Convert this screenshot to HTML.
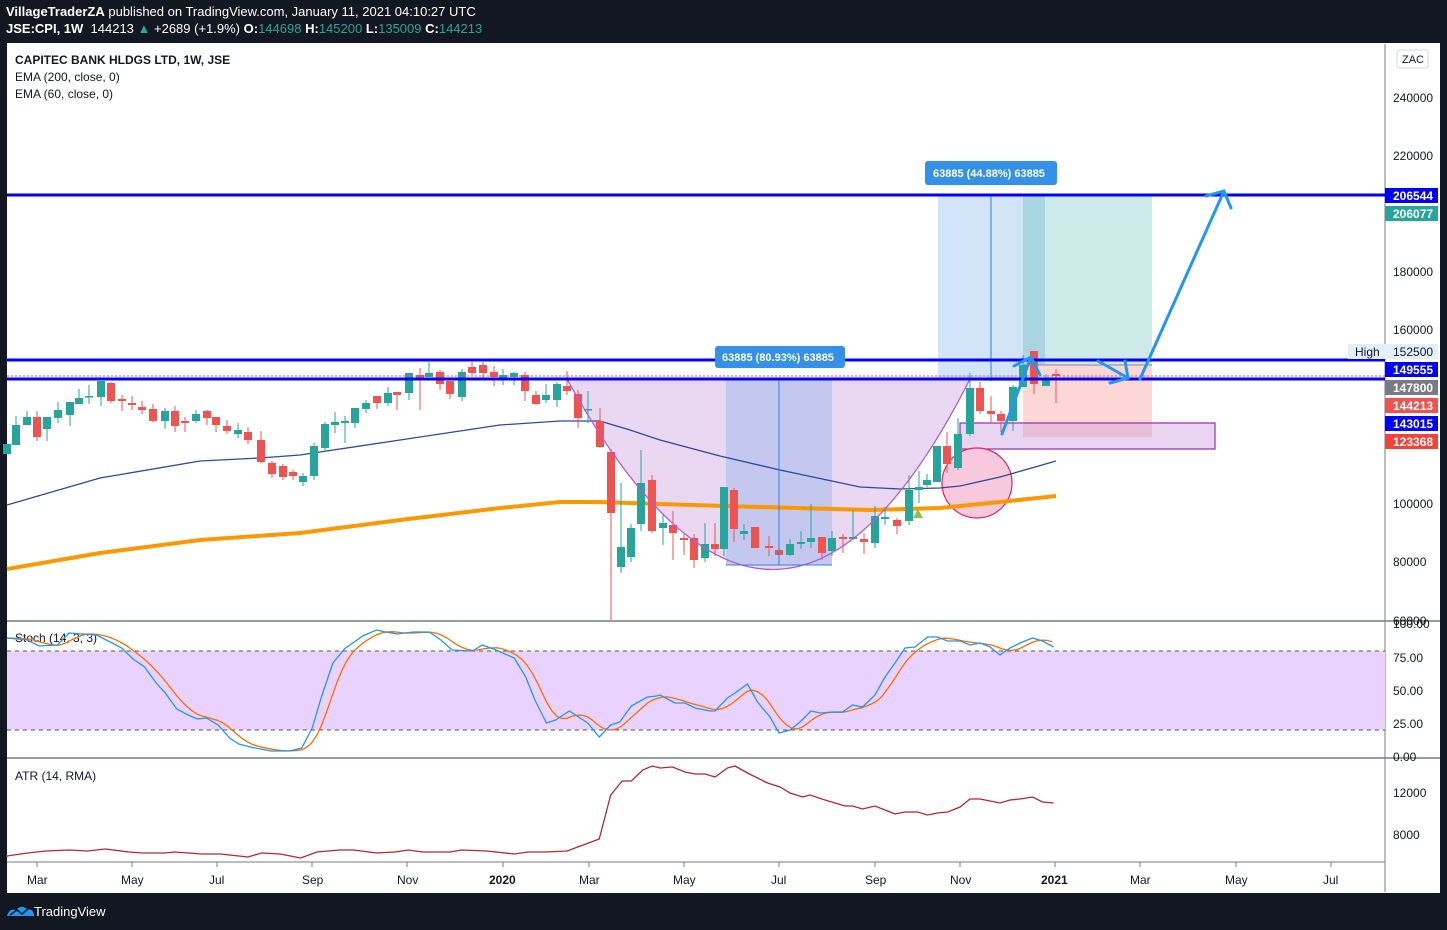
<!DOCTYPE html>
<html><head><meta charset="utf-8"><style>
html,body{margin:0;padding:0;background:#131722;width:1447px;height:930px;overflow:hidden;font-family:"Liberation Sans",sans-serif;}
.hd{position:absolute;left:6px;color:#fff;font-size:13px;white-space:nowrap;}
.hd b{font-weight:bold}
.tl{color:#26a69a}
#panel{position:absolute;left:7px;top:43px;width:1433px;height:850px;background:#fff;}
svg text{font-family:"Liberation Sans",sans-serif;}
</style></head><body>
<div class="hd" style="top:4px"><b>VillageTraderZA</b> published on TradingView.com, January 11, 2021 04:10:27 UTC</div>
<div class="hd" style="top:21px"><b>JSE:CPI, 1W</b>&nbsp; 144213 <span class="tl">▲</span> +2689 (+1.9%) <b>O:</b><span class="tl">144698</span> <b>H:</b><span class="tl">145200</span> <b>L:</b><span class="tl">135009</span> <b>C:</b><span class="tl">144213</span></div>
<div id="panel"></div>
<svg id="s" width="1447" height="930" style="position:absolute;left:0;top:0" xmlns="http://www.w3.org/2000/svg">
<g id="bg"></g>
<g font-size="12" fill="#131722">
<text x="15" y="64" font-weight="bold">CAPITEC BANK HLDGS LTD, 1W, JSE</text>
<text x="15" y="81">EMA (200, close, 0)</text>
<text x="15" y="98">EMA (60, close, 0)</text>
<text x="15" y="642">Stoch (14, 3, 3)</text>
<text x="15" y="780">ATR (14, RMA)</text>
</g>
<g id="fg"></g>
<g font-size="12" fill="#131722">
<rect x="1397" y="50" width="31" height="18" fill="#fff" stroke="#d1d4dc" rx="2"/>
<text x="1402" y="63" font-size="11">ZAC</text>
<text x="1393" y="102">240000</text>
<text x="1393" y="160">220000</text>
<text x="1393" y="276">180000</text>
<text x="1393" y="334">160000</text>
<text x="1393" y="508">100000</text>
<text x="1393" y="566">80000</text>
<text x="1393" y="625">60000</text>
<text x="1393" y="628">100.00</text>
<text x="1393" y="662">75.00</text>
<text x="1393" y="695">50.00</text>
<text x="1393" y="728">25.00</text>
<text x="1393" y="761">0.00</text>
<text x="1393" y="797">12000</text>
<text x="1393" y="839">8000</text>
</g>
<g font-size="12" font-weight="bold" fill="#fff">
<rect x="1385" y="188" width="53" height="15" fill="#0000ff"/><text x="1393" y="200">206544</text>
<rect x="1385" y="206" width="53" height="15" fill="#26a69a"/><text x="1393" y="218">206077</text>
<rect x="1348" y="344" width="90" height="15" fill="#e3effa"/><text x="1355" y="356" fill="#131722" font-weight="normal">High</text><text x="1393" y="356" fill="#131722" font-weight="normal">152500</text>
<rect x="1385" y="362" width="53" height="15" fill="#0000ff"/><text x="1393" y="374">149555</text>
<rect x="1385" y="380" width="53" height="15" fill="#787b86"/><text x="1393" y="392">147800</text>
<rect x="1385" y="398" width="53" height="15" fill="#ef5350"/><text x="1393" y="410">144213</text>
<rect x="1385" y="416" width="53" height="15" fill="#0000ff"/><text x="1393" y="428">143015</text>
<rect x="1385" y="434" width="53" height="15" fill="#f44336"/><text x="1393" y="446">123368</text>
<rect x="715" y="346" width="130" height="22" rx="3" fill="#3590e8"/><text x="722" y="361" font-size="11">63885 (80.93%) 63885</text>
<rect x="925" y="161" width="132" height="24" rx="3" fill="#3590e8"/><text x="933" y="177" font-size="11">63885 (44.88%) 63885</text>
</g>
<g font-size="12" fill="#131722">
<text x="27" y="884">Mar</text><text x="121" y="884">May</text><text x="209" y="884">Jul</text><text x="302" y="884">Sep</text><text x="397" y="884">Nov</text>
<text x="489" y="884" font-weight="bold">2020</text><text x="579" y="884">Mar</text><text x="673" y="884">May</text><text x="771" y="884">Jul</text><text x="865" y="884">Sep</text><text x="950" y="884">Nov</text>
<text x="1041" y="884" font-weight="bold">2021</text><text x="1130" y="884">Mar</text><text x="1225" y="884">May</text><text x="1323" y="884">Jul</text>
</g>
<g transform="translate(7,904)"><path d="M0 12 Q2 4 9 6 Q14 0 20 5 Q27 5 27 12 Z" fill="#2196f3"/><path d="M3 11 L10 6 L15 10 L22 4" stroke="#131722" stroke-width="1.5" fill="none"/></g>
<text x="34" y="916" font-size="13" fill="#fff">TradingView</text>
</svg>
<script>
var NS="http://www.w3.org/2000/svg";
function el(p,t,a){var e=document.createElementNS(NS,t);for(var k in a)e.setAttribute(k,a[k]);document.getElementById(p).appendChild(e);return e;}
function pl(pts){return pts.map(function(p){return p[0].toFixed(1)+","+p[1].toFixed(1)}).join(" ");}
// backgrounds & grid
el("bg","line",{x1:7,y1:621,x2:1440,y2:621,stroke:"#787b86","stroke-width":1.5});
el("bg","line",{x1:7,y1:758,x2:1440,y2:758,stroke:"#787b86","stroke-width":1.5});
el("bg","line",{x1:7,y1:862,x2:1385,y2:862,stroke:"#787b86"});
el("bg","line",{x1:1385,y1:44,x2:1385,y2:892,stroke:"#787b86"});
el("bg","rect",{x:7,y:651,width:1378,height:79,fill:"#e9d2fd"});
el("bg","line",{x1:7,y1:651,x2:1385,y2:651,stroke:"#555","stroke-dasharray":"4,4"});
el("bg","line",{x1:7,y1:730,x2:1385,y2:730,stroke:"#555","stroke-dasharray":"4,4"});
[37,132,217,312,407,503,589,684,779,875,960,1055,1140,1236,1331].forEach(function(x){el("bg","line",{x1:x,y1:862,x2:x,y2:867,stroke:"#787b86"});});
// zones
el("bg","path",{d:"M567 379 Q 777 760 970 379 Z",fill:"#ead8f2"});
el("bg","rect",{x:726,y:379,width:106,height:186,fill:"#c4c8ee"});
el("bg","rect",{x:938,y:195,width:85,height:186,fill:"#d2e5f8"});
el("bg","rect",{x:1023,y:195,width:129,height:170,fill:"#cde9e8"});
el("bg","rect",{x:1023,y:195,width:22,height:170,fill:"#a8d5df"});
el("bg","rect",{x:1023,y:365,width:129,height:72,fill:"#fcd7d6"});
el("bg","rect",{x:960,y:423,width:255,height:26,fill:"rgba(200,150,220,0.4)",stroke:"#9c27b0","stroke-width":1.2});
el("bg","circle",{cx:977,cy:483,r:35,fill:"#f8c9dc",stroke:"#e91e63","stroke-width":1.2});
// EMA lines
el("bg","polyline",{points:pl([[7,569],[100,553],[200,540],[300,533],[400,520],[500,508],[560,502],[600,502],[660,504],[760,507],[870,510],[940,508],[1000,502],[1056,496]]),fill:"none",stroke:"#ff9800","stroke-width":4});
el("bg","polyline",{points:pl([[7,505],[100,478],[200,461],[260,458],[300,455],[400,440],[500,425],[560,421],[600,421],[630,430],[660,440],[720,456],[780,470],[860,487],[900,489],[940,488],[960,486],[1000,477],[1056,461]]),fill:"none",stroke:"#2a4a9c","stroke-width":1.3});
// candles
var c=[[7,444,454,444,454,1],[16,425,445,416,445,1],[27,417,425,411,425,1],[37,417,437,411,441,0],[47,417,429,417,441,1],[58,410,418,402,423,1],[70,402,415,402,426,1],[79,398,404,389,404,1],[89,396,397,385,404,1],[101,381,397,381,406,1],[111,383,401,382,403,0],[122,399,401,395,411,0],[132,403,405,396,410,0],[142,407,410,401,414,0],[153,409,421,404,422,0],[165,411,421,408,429,1],[175,411,426,406,432,0],[185,421,423,417,432,0],[196,414,421,410,423,1],[207,411,418,410,425,0],[216,417,425,417,432,0],[227,426,431,420,434,0],[238,430,434,423,438,1],[248,432,440,427,444,0],[261,440,462,431,463,0],[272,463,474,461,478,0],[283,466,477,464,480,0],[293,472,476,470,480,0],[303,476,482,473,486,1],[314,446,476,443,480,1],[325,424,448,422,452,1],[335,422,425,412,433,1],[345,421,423,416,443,1],[355,408,423,408,428,1],[366,403,409,400,413,1],[377,396,403,396,409,0],[388,393,403,387,406,1],[397,392,395,392,410,0],[409,373,393,373,400,1],[420,375,379,368,410,0],[429,373,377,362,377,1],[440,372,384,370,390,0],[450,381,394,381,399,0],[462,372,397,369,401,1],[472,367,373,362,375,0],[483,365,373,362,378,0],[494,372,377,366,386,0],[503,375,378,369,385,1],[514,373,377,372,385,1],[525,375,391,372,401,0],[536,395,404,391,405,0],[546,395,400,384,403,1],[557,384,400,382,407,1],
[567,386,391,371,395,0],[578,394,418,390,428,0],[588,409,410,391,423,1],[600,421,447,408,448,0],[611,452,513,449,620,0],[621,547,567,483,573,1],[631,528,557,524,562,1],[641,483,524,450,531,1],[652,480,531,475,533,0],[663,523,528,513,545,1],[673,525,533,511,560,0],[684,538,540,533,555,0],[694,538,560,534,568,0],[705,544,558,523,562,1],[715,544,549,523,556,0],[724,487,549,487,556,1],[734,490,529,488,542,0],[744,531,534,524,540,1],[755,527,548,527,548,0],[769,546,548,536,556,0],[779,550,555,550,555,0],[790,544,555,539,556,1],[801,542,544,531,549,1],[811,538,542,504,548,1],[822,537,553,537,560,0],[832,538,551,531,556,1],[843,537,539,534,553,0],[853,537,539,510,540,1],[864,539,542,533,554,0],[875,516,543,506,548,1],[885,517,519,507,525,1],[897,520,526,518,534,0],[909,490,521,475,525,1],[919,487,490,471,503,1],[927,480,485,474,487,1],[937,446,482,446,482,1],[947,446,464,432,473,0],[958,434,468,418,470,1],[970,388,434,373,436,1],[980,388,411,382,414,0],[991,411,414,396,423,0],[1001,414,421,411,432,0],[1013,387,421,385,431,1],[1023,365,387,355,387,1],[1034,351,384,351,394,0],[1046,379,386,374,386,1],[1056,374,376,369,403,0]];
c.forEach(function(k){var col=k[5]?"#26a69a":"#ef5350";el("fg","line",{x1:k[0],y1:k[3],x2:k[0],y2:k[4],stroke:col,"stroke-width":1});el("fg","rect",{x:k[0]-4,y:k[1],width:8,height:Math.max(1.5,k[2]-k[1]),fill:col});});
// overlays
el("fg","path",{d:"M567 379 Q 777 760 970 379",fill:"none",stroke:"#b45bd0","stroke-width":1.3});
el("fg","line",{x1:779,y1:379,x2:779,y2:565,stroke:"#2f7fe0"});
el("fg","line",{x1:726,y1:565,x2:832,y2:565,stroke:"#2f7fe0"});
el("fg","line",{x1:991,y1:195,x2:991,y2:381,stroke:"#2f7fe0"});
el("fg","line",{x1:1023,y1:365,x2:1152,y2:365,stroke:"#888"});
el("fg","line",{x1:7,y1:195,x2:1385,y2:195,stroke:"#0000ff","stroke-width":3});
el("fg","line",{x1:7,y1:360,x2:1385,y2:360,stroke:"#0000ff","stroke-width":3});
el("fg","line",{x1:7,y1:379,x2:1385,y2:379,stroke:"#0000ff","stroke-width":3});
el("fg","line",{x1:7,y1:376,x2:1385,y2:376,stroke:"#ef5350","stroke-dasharray":"2,2"});
el("fg","polygon",{points:"913,518 923,518 918,509",fill:"#8bc34a"});
var A={fill:"none",stroke:"#2196f3","stroke-width":3,"stroke-linecap":"round"};
el("fg","polyline",Object.assign({points:"1002,434 1031,357"},A));
el("fg","polyline",Object.assign({points:"1014,366 1031,357 1040,375"},A));
el("fg","polyline",Object.assign({points:"1098,361 1128,378"},A));
el("fg","polyline",Object.assign({points:"1110,383 1128,378 1125,361"},A));
el("fg","polyline",Object.assign({points:"1140,379 1224,191"},A));
el("fg","polyline",Object.assign({points:"1206,196 1224,191 1231,208"},A));
// stoch
var K7=[[15,638],[60,640],[85,646],[125,645],[150,633],[210,635],[240,642],[265,648],[290,659],[315,667],[340,683],[360,693],[385,709],[410,715],[430,719],[450,718],[475,725],[500,738],[520,744],[545,747],[590,751],[630,751],[657,748],[680,728],[700,697],[725,663],[750,649],[790,636],[820,630],[840,632],[865,634],[900,632],[935,632],[960,640],[985,650],[1030,651],[1050,645],[1075,649],[1120,658],[1145,677],[1165,700],[1190,723],[1210,720],[1240,711],[1280,723],[1305,737],[1330,725],[1350,722],[1375,706],[1410,697],[1430,696]].map(function(p){return [p[0]/2.178,p[1]];});
var K8=[[0,695],[30,703],[50,703],[70,708],[100,711],[110,711],[135,698],[150,693],[175,684],[195,702],[220,717],[238,733],[260,730],[280,722],[302,711],[320,713],[345,712],[365,712],[385,705],[405,707],[430,695],[450,677],[470,663],[490,648],[510,647],[535,637],[555,637],[575,641],[600,641],[620,645],[640,643],[660,647],[680,655],[700,648],[720,643],[745,638],[765,641],[787,647]].map(function(p){return [660+p[0]/2,p[1]];});
var K=[[7,638]].concat(K7,K8);
function interp(P,x){if(x<=P[0][0])return P[0][1];for(var i=1;i<P.length;i++){if(x<=P[i][0]){var a=P[i-1],b=P[i];return a[1]+(b[1]-a[1])*(x-a[0])/(b[0]-a[0]);}}return P[P.length-1][1];}
var D=[];for(var x=7;x<=1056;x+=5){var s=0;for(var j=0;j<5;j++)s+=interp(K,x-j*5);D.push([x,s/5]);}
el("fg","polyline",{points:pl(D),fill:"none",stroke:"#ff6d00","stroke-width":1.3});
el("fg","polyline",{points:pl(K),fill:"none",stroke:"#2196f3","stroke-width":1.3});
// ATR
var T7=[[15,856],[60,853],[100,851],[150,850],[190,851],[230,849],[280,852],[310,853],[360,853],[380,852],[440,854],[480,854],[540,857],[570,853],[610,854],[655,858],[690,852],[740,850],[770,850],[820,853],[860,852],[890,850],[920,852],[980,852],[1005,850],[1060,851],[1120,854],[1150,852],[1190,852],[1235,851],[1270,845],[1305,839],[1330,795],[1355,781],[1375,781],[1400,770],[1420,766],[1430,767]].map(function(p){return [p[0]/2.178,p[1]];});
var T8=[[0,768],[25,767],[50,772],[70,774],[90,774],[110,777],[135,768],[150,766],[175,773],[215,783],[240,787],[260,793],[285,797],[300,795],[330,800],[370,806],[385,806],[405,809],[430,806],[470,814],[490,812],[515,812],[535,815],[555,813],[575,812],[600,807],[620,799],[640,799],[680,803],[700,800],[720,799],[745,797],[765,802],[787,803]].map(function(p){return [660+p[0]/2,p[1]];});
el("fg","polyline",{points:pl([[7,857]].concat(T7,T8)),fill:"none",stroke:"#b22833","stroke-width":1.3});
</script>
</body></html>
